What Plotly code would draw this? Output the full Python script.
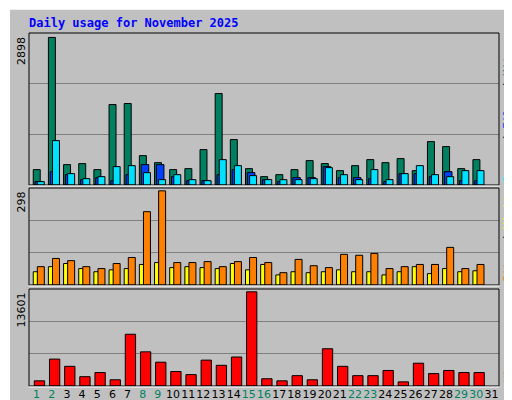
import plotly.graph_objects as go

days = list(range(1, 31))
day_labels = [str(d) for d in range(1, 32)]
weekend = [1, 2, 8, 9, 15, 16, 22, 23, 29, 30]

hits = [302, 2898, 400, 420, 302, 1580, 1600, 577, 439, 302, 321, 695, 1796, 892, 321,
        164, 203, 302, 479, 420, 282, 380, 498, 439, 518, 282, 852, 754, 321, 498]
files = [66, 262, 203, 105, 144, 85, 203, 400, 400, 164, 85, 85, 203, 302, 243,
         105, 66, 144, 144, 361, 144, 144, 125, 66, 223, 223, 164, 262, 85, 85]
pages = [66, 872, 223, 125, 164, 361, 380, 243, 105, 203, 105, 85, 498, 380, 184,
         105, 105, 105, 125, 341, 203, 105, 302, 105, 223, 380, 203, 164, 282, 282]
visits = [42, 58, 68, 52, 42, 48, 52, 65, 71, 55, 58, 55, 52, 68, 48,
          65, 32, 42, 39, 42, 48, 42, 42, 32, 42, 58, 36, 52, 42, 45]
sites = [58, 84, 77, 58, 52, 68, 87, 232, 298, 71, 71, 74, 58, 74, 87,
         71, 39, 81, 61, 55, 97, 94, 100, 52, 58, 65, 65, 119, 52, 65]
kbytes = [747, 3885, 2840, 1345, 1943, 897, 7473, 4932, 3437, 2092, 1644, 3736, 2989, 4185, 13601,
          1046, 747, 1494, 897, 5380, 2840, 1494, 1494, 2242, 598, 3288, 1793, 2242, 1943, 1943]

fig = go.Figure()
line = dict(color="black", width=1)

def bars(y, color, offset, width, axis):
    fig.add_trace(go.Bar(x=days, y=y, marker=dict(color=color, line=line),
                         offset=offset, width=width, xaxis="x" + axis, yaxis="y" + axis,
                         hoverinfo="skip", showlegend=False))

bars(hits, "#008060", -0.22, 0.46, "")
bars(files, "#0040ff", -0.1, 0.5, "")
bars(pages, "#00e0ff", 0.05, 0.46, "")
bars(visits, "#ffff00", -0.22, 0.3, "2")
bars(sites, "#ff8000", 0.05, 0.46, "2")
bars(kbytes, "#ff0000", -0.15, 0.68, "3")

xdom = [21 / 512, 491 / 512]
xcommon = dict(range=[0.5, 31.5], domain=xdom, showgrid=False, zeroline=False, fixedrange=True)
tick_text = ["<span style='color:%s'>%s</span>" % ("#008060" if int(t) in weekend else "black", t)
             for t in day_labels]

def yax(top, dom):
    m = max(top)
    rng = m * 1.03
    return dict(domain=dom, range=[0, rng], tickvals=[rng / 3, rng * 2 / 3], showticklabels=False,
                gridcolor="#808080", gridwidth=1, zeroline=False, ticks="")

panels = [(25, 177), (180, 277), (281, 378)]

fig.update_layout(
    width=512, height=400, margin=dict(l=0, r=0, t=0, b=0),
    paper_bgcolor="#c0c0c0", plot_bgcolor="#c0c0c0", barmode="overlay",
    font=dict(family="DejaVu Sans Mono", size=11, color="black"),
    xaxis=dict(xcommon, anchor="y", showticklabels=False),
    xaxis2=dict(xcommon, anchor="y2", showticklabels=False),
    xaxis3=dict(xcommon, anchor="y3", tickvals=list(range(1, 32)), ticktext=tick_text,
                tickangle=0, tickfont=dict(size=11, family="DejaVu Sans"), ticks=""),
    yaxis=yax(hits, [1 - panels[0][1] / 400, 1 - panels[0][0] / 400]),
    yaxis2=yax(sites, [1 - panels[1][1] / 400, 1 - panels[1][0] / 400]),
    yaxis3=yax(kbytes, [1 - panels[2][1] / 400, 1 - panels[2][0] / 400]),
)

# panel frames and outer bevel
for y0, y1 in panels:
    fig.add_shape(type="rect", xref="paper", yref="paper", x0=xdom[0], x1=xdom[1],
                  y0=1 - y1 / 400, y1=1 - y0 / 400, line=dict(color="black", width=1))
    fig.add_shape(type="line", xref="paper", yref="paper", x0=xdom[0], x1=xdom[1],
                  y0=1 - (y1 + 1) / 400, y1=1 - (y1 + 1) / 400, line=dict(color="white", width=1))
fig.add_shape(type="rect", xref="paper", yref="paper", x0=0.002, x1=0.996, y0=0.006, y1=0.998,
              line=dict(color="white", width=2), layer="below")
fig.add_shape(type="line", xref="paper", yref="paper", x0=0.996, x1=0.996, y0=0.006, y1=0.998,
              line=dict(color="#808080", width=4), layer="below")
fig.add_shape(type="line", xref="paper", yref="paper", x0=0.002, x1=0.996, y0=0.006, y1=0.006,
              line=dict(color="#808080", width=4), layer="below")

fig.add_annotation(text="<b>Daily usage for November 2025</b>", xref="paper", yref="paper",
                   x=19 / 512, y=1 - 15 / 400, xanchor="left", yanchor="middle", showarrow=False,
                   font=dict(color="#0000ff", size=12, family="DejaVu Sans Mono"))

for val, ypx in [(max(hits), 27), (max(sites), 182), (max(kbytes), 283)]:
    fig.add_annotation(text=str(val), xref="paper", yref="paper", x=13 / 512, y=1 - ypx / 400,
                       xanchor="center", yanchor="top", textangle=-90, showarrow=False,
                       font=dict(size=11, family="DejaVu Sans"))

right = [
    ("<span style='color:#00e0ff'>Pages</span> / <span style='color:#0040ff'>Files</span>"
     " / <span style='color:#008060'>Hits</span>", 176),
    ("<span style='color:#ff8000'>Sites</span> / <span style='color:#ffff00'>Visits</span>", 276),
    ("<span style='color:#ff0000'>KBytes</span>", 377),
]
for txt, ypx in right:
    fig.add_annotation(text=txt, xref="paper", yref="paper", x=508 / 512, y=1 - ypx / 400,
                       xanchor="right", yanchor="bottom", textangle=-90, showarrow=False,
                       font=dict(size=11, family="DejaVu Sans Mono", color="black"))

fig.write_html("out.html")
